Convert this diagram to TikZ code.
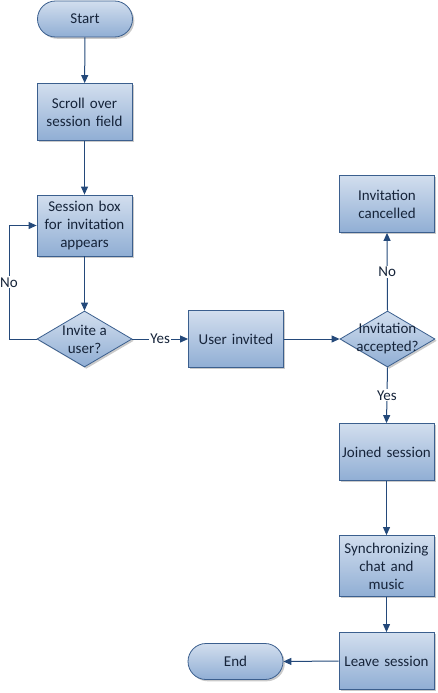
\documentclass[tikz,border=0pt]{standalone}
\usepackage{fontspec}
\setmainfont{Carlito}
\usetikzlibrary{shapes.geometric,shapes.misc,arrows.meta,shadows}
\definecolor{bordc}{HTML}{3B5F8E}
\definecolor{topc}{HTML}{D2DEEE}
\definecolor{botc}{HTML}{90AED4}
\definecolor{linec}{HTML}{24497A}
\definecolor{txtc}{HTML}{16243A}
\begin{document}
\begin{tikzpicture}[x=1pt,y=-1pt,
  base/.style={draw=bordc, line width=0.8pt, top color=topc, bottom color=botc,
    text=txtc, font=\fontsize{15}{18}\selectfont, align=center,
    drop shadow={shadow xshift=1.8pt, shadow yshift=-1.8pt, opacity=0.35, fill=black!60}},
  stepbox/.style={base, rectangle, minimum width=95pt, minimum height=57pt, inner sep=0pt, text width=93pt},
  tallbox/.style={stepbox, minimum height=61pt},
  term/.style={base, rounded rectangle, minimum width=95pt, minimum height=36pt, inner sep=0pt},
  dec/.style={base, diamond, minimum width=95pt, minimum height=56pt, inner sep=0pt, aspect=1.7},
  dtext/.style={text=txtc, font=\fontsize{15}{18}\selectfont, align=center, inner sep=0pt},
  lbl/.style={fill=white, text=txtc, font=\fontsize{15}{18}\selectfont, inner sep=1pt},
  conn/.style={draw=linec, line width=1pt, -{Triangle[length=8pt,width=7pt]}}
]
\useasboundingbox (0,0) rectangle (437,693);

\node[term] (start) at (85,19) {Start};
\node[stepbox] (scroll) at (84.5,112) {Scroll over\\session field};
\node[tallbox] (sess) at (84.5,225.5) {Session box\\for invitation\\appears};
\node[dec] (d1) at (84.5,339) {};
\node[dtext] (d1t) at (84.5,339) {Invite a\\user?};
\node[stepbox] (ui) at (236,339) {User invited};
\node[dec] (d2) at (387.5,339) {};
\node[dtext] (d2t) at (387.5,339) {Invitation\\accepted?};
\node[stepbox] (canc) at (387,204) {Invitation\\cancelled};
\node[stepbox] (joined) at (386.5,452) {Joined session};
\node[tallbox] (sync) at (386.5,566) {Synchronizing\\chat and\\music};
\node[stepbox] (leave) at (386.5,661) {Leave session};
\node[term] (end) at (235.5,661.5) {End};

\coordinate (lb) at (9,339);
\coordinate (lt) at (9,225.5);

\draw[conn] (start) -- (scroll);
\draw[conn] (scroll) -- (sess);
\draw[conn] (sess) -- (d1);
\draw[conn] (d1.west) -- (lb) -- node[lbl, pos=0.5] (no1) {No} (lt) -- (sess.west);
\draw[conn] (d1.east) -- node[lbl, pos=0.5] (yes1) {Yes} (ui.west);
\draw[conn] (ui.east) -- (d2.west);
\draw[conn] (d2.north) -- node[lbl, pos=0.5] (no2) {No} (canc.south);
\draw[conn] (d2.south) -- node[lbl, pos=0.5] (yes2) {Yes} (joined.north);
\draw[conn] (joined) -- (sync);
\draw[conn] (sync) -- (leave);
\draw[conn] (leave.west) -- (end.east);
\end{tikzpicture}
\end{document}
